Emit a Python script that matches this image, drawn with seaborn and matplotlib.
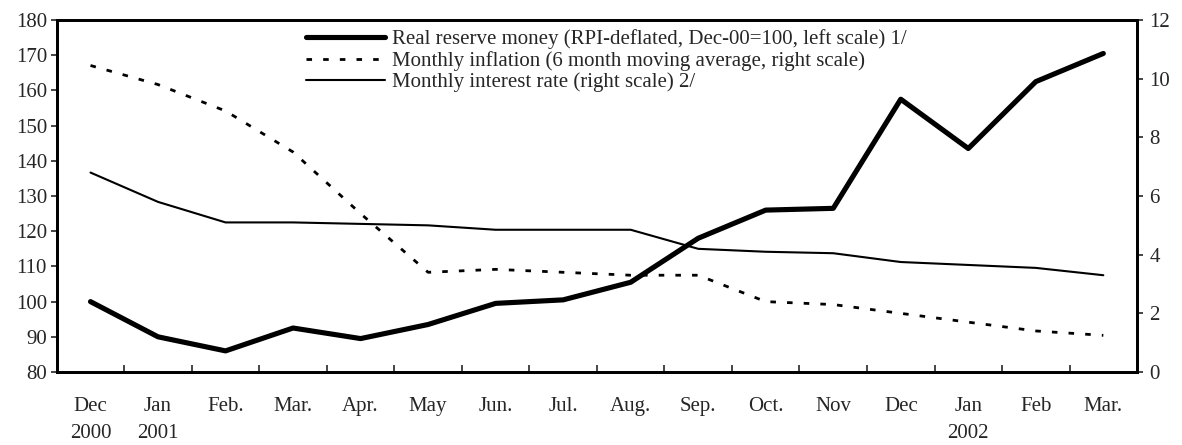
import numpy as np
import pandas as pd
import seaborn as sns
import matplotlib.pyplot as plt
from matplotlib.lines import Line2D

months = ["Dec\n2000", "Jan\n2001", "Feb.", "Mar.", "Apr.", "May", "Jun.", "Jul.",
          "Aug.", "Sep.", "Oct.", "Nov", "Dec", "Jan\n2002", "Feb", "Mar."]
reserve_money = [100, 90, 86, 92.5, 89.5, 93.5, 99.5, 100.5, 105.5, 118, 126,
                 126.5, 157.5, 143.5, 162.5, 170.5]
inflation = [10.45, 9.8, 8.9, 7.5, 5.4, 3.4, 3.5, 3.4, 3.3, 3.3, 2.4, 2.3,
             2.0, 1.7, 1.4, 1.25]
interest = [6.8, 5.8, 5.1, 5.1, 5.05, 5.0, 4.85, 4.85, 4.85, 4.2, 4.1, 4.05,
            3.75, 3.65, 3.55, 3.3]

labels = ["Real reserve money (RPI-deflated, Dec-00=100, left scale) 1/",
          "Monthly inflation (6 month moving average, right scale)",
          "Monthly interest rate (right scale) 2/"]

sns.set_style("ticks")
plt.rcParams["font.family"] = ["Liberation Serif", "DejaVu Serif"]

df = pd.DataFrame({"pos": np.arange(len(months)), "reserve": reserve_money,
                   "inflation": inflation, "interest": interest})

fig = plt.figure(figsize=(11.82, 4.45), dpi=100)
ax = fig.add_axes([0.048, 0.164, 0.914, 0.791])
ax2 = ax.twinx()

sns.lineplot(data=df, x="pos", y="reserve", ax=ax, color="black", lw=3.7,
             solid_capstyle="round", solid_joinstyle="round")
sns.lineplot(data=df, x="pos", y="inflation", ax=ax2, color="black", lw=2,
             linestyle=(0, (2, 4)))
sns.lineplot(data=df, x="pos", y="interest", ax=ax2, color="black", lw=1.5)

ax.set_xlim(-0.5, len(months) - 0.5)
ax.set_ylim(80, 180)
ax2.set_ylim(0, 12)
ax.set_yticks(range(80, 181, 10))
ax2.set_yticks(range(0, 13, 2))

# category labels at centres, tick marks at boundaries
ax.set_xticks(np.arange(len(months)))
ax.set_xticklabels(months, fontsize=15, linespacing=1.55, va="top")
ax.tick_params(axis="x", length=0, pad=18)
ax.set_xticks(np.arange(len(months) + 1) - 0.5, minor=True)
ax.tick_params(axis="x", which="minor", direction="in", length=5, width=1.2)

ax.tick_params(axis="y", labelsize=15, length=4, width=1.2, pad=3)
ax2.tick_params(axis="y", labelsize=15, length=4, width=1.2, pad=5)
ax.set_xlabel("")
ax.set_ylabel("")
ax2.set_ylabel("")

for a in (ax, ax2):
    for s in a.spines.values():
        s.set_visible(True)
        s.set_linewidth(2)
        s.set_color("black")

handles = [Line2D([], [], color="black", lw=3.7),
           Line2D([], [], color="black", lw=2, linestyle=(0, (2, 4))),
           Line2D([], [], color="black", lw=1.5)]
ax2.legend(handles, labels, loc="upper left", bbox_to_anchor=(0.222, 1.0),
           frameon=False, fontsize=15, handlelength=3.8, handletextpad=0.35,
           labelspacing=0.08, borderaxespad=0.05)

fig.savefig("out.png", dpi=100)
